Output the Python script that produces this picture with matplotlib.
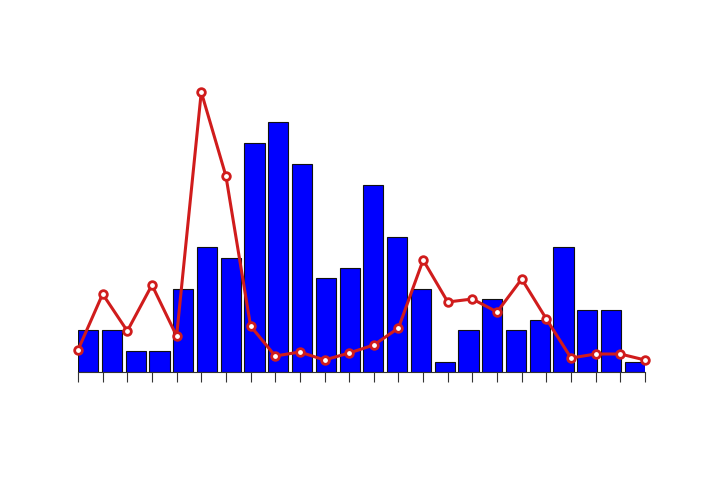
import matplotlib
matplotlib.use("Agg")
from matplotlib import pyplot as plt
import numpy as np

# bar series (one bar per band)
bar_values = [4, 4, 2, 2, 8, 12, 11, 22, 24, 20, 9, 10,
              18, 13, 8, 1, 4, 7, 4, 5, 12, 6, 6, 1]
# line series (one point per tick)
line_values = [2.2, 7.8, 4.1, 8.7, 3.6, 28.0, 19.6, 4.6, 1.6, 2.0, 1.2, 1.9,
               2.7, 4.4, 11.2, 7.0, 7.3, 6.0, 9.3, 5.3, 1.4, 1.8, 1.8, 1.2]

n = len(bar_values)
bar_w = 0.85
span = (n - 1) + bar_w

fig = plt.figure(figsize=(7.2, 4.8), dpi=100)
ax = fig.add_axes([78 / 720, 108 / 480, 567 / 720, 280 / 480])
ax2 = ax.twinx()

ax.bar(np.arange(n), bar_values, width=bar_w, align="edge",
       color="#0000ff", edgecolor="#111111", linewidth=0.8)
ax.set_xlim(0, span)
ax.set_ylim(0, 26.9)

lx = np.arange(n) * span / (n - 1)
red = "#d01c1c"
ax2.plot(lx, line_values, color=red, linewidth=2.2, marker="o", markersize=5.5,
         markerfacecolor="white", markeredgecolor=red, markeredgewidth=2,
         clip_on=False, zorder=5)
ax2.set_ylim(0, 28.0)
ax2.set_xlim(0, span)

for a in (ax, ax2):
    for side in ("left", "right", "top"):
        a.spines[side].set_visible(False)
    a.set_yticks([])
ax2.spines["bottom"].set_visible(False)
ax.spines["bottom"].set_color("#333333")
ax.spines["bottom"].set_linewidth(0.8)
ax.set_xticks(lx)
ax.set_xticklabels([])
ax.tick_params(axis="x", length=7, width=0.8, color="#333333", direction="out")

fig.savefig("out.png", dpi=100)
